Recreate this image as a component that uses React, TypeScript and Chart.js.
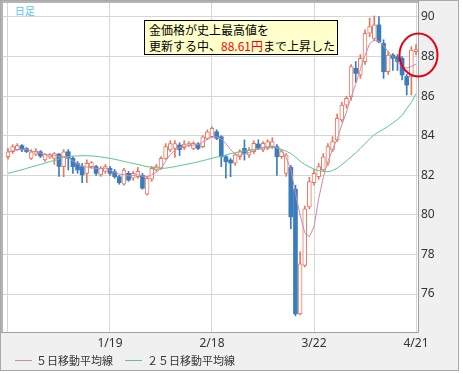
import React, { useEffect, useRef } from 'react';
import { Chart, registerables } from 'chart.js';

Chart.register(...registerables);

// ---- data (daily candles, index 0..88) ----
const OPEN = [
  82.94, 83.20, 83.30, 83.50, 83.35, 82.86, 83.05, 83.19, 82.78, 82.92,
  82.86, 83.08, 82.44, 83.19, 82.86, 82.60, 82.44, 82.10, 82.44, 82.44,
  82.02, 82.20, 82.35, 82.18, 81.93, 81.55, 82.10, 81.85, 81.93, 82.00,
  81.05, 81.80, 82.27, 82.35, 82.86, 83.28, 83.36, 83.53, 83.40, 83.53,
  83.36, 83.58, 83.45, 83.87, 83.95, 84.20, 83.95, 82.94, 82.77, 82.61,
  82.94, 83.36, 83.03, 83.20, 83.58, 83.28, 83.36, 83.45, 83.45, 82.94,
  82.10, 82.40, 81.30, 75.00, 77.45, 80.40, 81.63, 81.93, 82.27, 82.61,
  83.28, 83.79, 84.80, 85.55, 85.97, 87.41, 87.07, 87.74, 89.18, 88.92,
  89.60, 88.67, 87.24, 88.08, 87.99, 87.91, 86.99, 86.99, 88.25,
];
const HIGH = [
  83.36, 83.55, 83.60, 83.55, 83.40, 83.30, 83.35, 83.25, 83.10, 83.10,
  83.15, 83.10, 83.30, 83.30, 82.95, 82.70, 82.60, 82.78, 82.70, 82.50,
  82.45, 82.55, 82.45, 82.30, 82.00, 82.35, 82.20, 82.20, 82.40, 82.10,
  81.95, 82.45, 82.55, 82.95, 83.60, 83.75, 83.75, 83.65, 83.75, 83.70,
  83.70, 83.65, 84.00, 84.30, 84.45, 84.30, 84.00, 83.00, 82.85, 83.10,
  83.30, 83.79, 83.40, 83.75, 83.80, 83.70, 83.80, 83.90, 83.55, 83.30,
  83.10, 82.50, 81.50, 78.13, 80.45, 81.90, 82.30, 82.60, 83.10, 83.60,
  83.95, 85.10, 85.70, 86.00, 87.60, 87.75, 88.10, 89.35, 89.95, 90.05,
  90.02, 88.85, 88.25, 88.15, 88.10, 88.00, 87.10, 88.50, 88.61,
];
const LOW = [
  82.81, 83.10, 83.25, 83.20, 83.15, 82.80, 83.00, 82.90, 82.70, 82.85,
  82.55, 81.95, 81.93, 82.27, 82.10, 82.10, 81.63, 81.63, 82.35, 82.00,
  81.95, 82.10, 82.00, 81.85, 81.55, 81.50, 81.70, 81.75, 81.85, 81.30,
  81.00, 81.70, 82.20, 82.30, 82.80, 83.20, 82.90, 83.00, 83.30, 83.45,
  83.30, 83.30, 83.40, 83.80, 83.90, 83.80, 82.44, 81.86, 81.93, 82.50,
  82.80, 82.77, 82.90, 83.10, 83.30, 83.20, 83.30, 83.35, 82.00, 82.85,
  81.95, 79.30, 74.90, 74.95, 77.37, 80.30, 81.50, 81.80, 82.20, 82.50,
  83.20, 83.70, 84.70, 85.40, 85.80, 86.70, 86.90, 87.60, 89.00, 88.80,
  88.70, 86.90, 87.10, 87.30, 87.30, 86.82, 86.06, 86.06, 88.10,
];
const CLOSE = [
  83.19, 83.45, 83.50, 83.28, 83.20, 83.19, 83.22, 82.97, 83.05, 83.05,
  83.10, 82.45, 83.19, 82.86, 82.44, 82.27, 82.02, 82.60, 82.64, 82.10,
  82.35, 82.44, 82.10, 81.93, 81.63, 82.27, 81.76, 82.10, 82.20, 81.35,
  81.85, 82.35, 82.44, 82.86, 83.45, 83.60, 83.60, 83.30, 83.58, 83.62,
  83.62, 83.36, 83.95, 84.20, 84.37, 83.87, 82.94, 82.69, 82.62, 83.03,
  83.20, 83.11, 83.28, 83.62, 83.36, 83.62, 83.70, 83.70, 82.94, 83.20,
  83.03, 79.90, 75.00, 77.53, 80.31, 81.68, 82.10, 82.44, 82.94, 83.45,
  83.70, 84.88, 85.55, 85.89, 87.49, 87.15, 87.91, 89.18, 89.51, 89.60,
  88.75, 87.24, 88.08, 87.91, 87.74, 87.07, 86.56, 88.33, 88.35,
];
const MA5 = [
  83.19, 83.24, 83.30, 83.31, 83.30, 83.22, 83.18, 83.12, 83.06, 83.03,
  83.00, 82.94, 82.95, 82.88, 82.72, 82.58, 82.46, 82.42, 82.38, 82.35,
  82.34, 82.36, 82.25, 82.15, 82.06, 82.04, 81.97, 81.99, 82.02, 81.96,
  81.92, 82.02, 82.15, 82.35, 82.72, 83.05, 83.28, 83.40, 83.47, 83.50,
  83.53, 83.55, 83.68, 83.82, 83.93, 83.95, 83.84, 83.60, 83.30, 83.06,
  83.02, 83.08, 83.15, 83.25, 83.32, 83.40, 83.46, 83.48, 83.42, 83.22,
  82.90, 82.30, 81.10, 80.00, 79.10, 78.90, 79.40, 80.80, 81.90, 82.70,
  83.30, 83.85, 84.55, 85.20, 85.95, 86.60, 87.35, 88.05, 88.65, 88.85,
  88.78, 88.55, 88.25, 88.00, 87.75, 87.50, 87.42, 87.50, 87.62,
];
const MA25 = [
  82.10, 82.16, 82.22, 82.28, 82.35, 82.42, 82.48, 82.55, 82.62, 82.69,
  82.75, 82.82, 82.90, 82.95, 82.97, 82.98, 82.99, 82.99, 82.98, 82.96,
  82.93, 82.89, 82.86, 82.81, 82.76, 82.70, 82.65, 82.60, 82.55, 82.49,
  82.44, 82.41, 82.38, 82.36, 82.36, 82.40, 82.44, 82.49, 82.53, 82.58,
  82.63, 82.68, 82.74, 82.80, 82.86, 82.92, 82.96, 83.03, 83.10, 83.14,
  83.19, 83.23, 83.27, 83.31, 83.35, 83.38, 83.41, 83.42, 83.39, 83.31,
  83.22, 83.10, 82.92, 82.72, 82.55, 82.42, 82.31, 82.24, 82.20, 82.18,
  82.24, 82.36, 82.54, 82.73, 82.93, 83.13, 83.36, 83.60, 83.84, 84.05,
  84.20, 84.33, 84.48, 84.65, 84.82, 85.02, 85.38, 85.68, 86.12,
];
const X_TICK_POS = [0, 22, 44, 66, 88];
const X_TICK_LABELS = ['', '1/19', '2/18', '3/22', '4/21'];
const Y_TICKS = [76, 78, 80, 82, 84, 86, 88, 90];
const LEGEND = ['５日移動平均線', '２５日移動平均線'];

const UP = '#e8775f';
const DOWN = '#3a7dbf';
const PINK = '#d08aaa';
const GREEN = '#5cc68f';

export default function App() {
  const ref = useRef<HTMLCanvasElement>(null);

  useEffect(() => {
    document.body.style.margin = '0';
    const idx = OPEN.map((_, i) => i);
    const up = idx.map((i) => CLOSE[i] >= OPEN[i]);

    const framePlugin = {
      id: 'frame',
      beforeDraw(chart: any) {
        const { ctx, chartArea: a } = chart;
        ctx.save();
        ctx.fillStyle = '#ffffff';
        ctx.fillRect(0, 0, chart.width, chart.height);
        ctx.fillStyle = '#f0f0f0';
        ctx.fillRect(0, 0, 459, 371);
        ctx.fillStyle = '#ffffff';
        ctx.fillRect(a.left, a.top, a.right - a.left, a.bottom - a.top);
        ctx.restore();
      },
      afterDraw(chart: any) {
        const { ctx, chartArea: a } = chart;
        ctx.save();
        ctx.lineWidth = 1;
        ctx.strokeStyle = '#a9a9a9';
        ctx.strokeRect(0.5, 0.5, 458, 370);
        ctx.strokeStyle = '#b4b4b4';
        ctx.lineWidth = 2;
        ctx.beginPath();
        ctx.moveTo(2, a.bottom);
        ctx.lineTo(2, 2);
        ctx.lineTo(a.right, 2);
        ctx.stroke();
        ctx.lineWidth = 1;
        ctx.strokeStyle = '#a0a0a0';
        ctx.beginPath();
        ctx.moveTo(1, a.bottom + 0.5);
        ctx.lineTo(a.right + 0.5, a.bottom + 0.5);
        ctx.lineTo(a.right + 0.5, 1);
        ctx.stroke();
        // red highlight circle
        ctx.strokeStyle = '#e60012';
        ctx.lineWidth = 2;
        ctx.beginPath();
        ctx.ellipse(418.5, 55, 19, 21.5, 0, 0, Math.PI * 2);
        ctx.stroke();
        ctx.restore();
      },
    };

    const chart = new Chart(ref.current as HTMLCanvasElement, {
      type: 'bar',
      data: {
        datasets: [
          {
            type: 'line',
            label: LEGEND[0],
            data: idx.map((i) => ({ x: i, y: MA5[i] })),
            borderColor: PINK,
            borderWidth: 1,
            pointRadius: 0,
            order: 0,
          } as any,
          {
            type: 'line',
            label: LEGEND[1],
            data: idx.map((i) => ({ x: i, y: MA25[i] })),
            borderColor: GREEN,
            borderWidth: 1,
            pointRadius: 0,
            order: 0,
          } as any,
          {
            type: 'bar',
            label: 'body',
            data: idx.map((i) => ({ x: i, y: [OPEN[i], CLOSE[i]] })),
            backgroundColor: idx.map((i) => (up[i] ? '#ffffff' : DOWN)),
            borderColor: idx.map((i) => (up[i] ? UP : DOWN)),
            borderWidth: idx.map((i) => (up[i] ? 1 : 0)),
            borderSkipped: false,
            barThickness: 4,
            grouped: false,
            order: 1,
          } as any,
          {
            type: 'bar',
            label: 'wick',
            data: idx.map((i) => ({ x: i, y: [LOW[i], HIGH[i]] })),
            backgroundColor: idx.map((i) => (up[i] ? UP : DOWN)),
            borderWidth: 0,
            barThickness: 1,
            grouped: false,
            order: 2,
          } as any,
        ],
      },
      options: {
        responsive: false,
        animation: false,
        devicePixelRatio: 1,
        events: [],
        layout: { autoPadding: false, padding: { left: 3, top: 3, right: 4, bottom: 3 } },
        plugins: { legend: { display: false }, tooltip: { enabled: false } },
        scales: {
          x: {
            type: 'linear',
            min: -1.078,
            max: 88.431,
            offset: false,
            grid: { color: '#d6d6d6', drawTicks: false, offset: false },
            border: { display: false },
            afterBuildTicks: (s: any) => {
              s.ticks = X_TICK_POS.map((v) => ({ value: v }));
            },
            afterFit: (s: any) => {
              s.height = 39;
              s.paddingLeft = 0;
              s.paddingRight = 0;
              s.paddingTop = 0;
              s.paddingBottom = 0;
            },
            ticks: {
              autoSkip: false,
              maxRotation: 0,
              padding: 4,
              color: '#333',
              font: { size: 12, family: "'Noto Sans', sans-serif" },
              callback: (v: any) => {
                const k = X_TICK_POS.indexOf(Number(v));
                return k >= 0 ? X_TICK_LABELS[k] : '';
              },
            },
          },
          y: {
            position: 'right',
            min: 74.083,
            max: 90.707,
            grid: { color: '#d6d6d6', drawTicks: false },
            border: { display: false },
            afterBuildTicks: (s: any) => {
              s.ticks = Y_TICKS.map((v) => ({ value: v }));
            },
            afterFit: (s: any) => {
              s.width = 41;
              s.paddingLeft = 0;
              s.paddingRight = 0;
              s.paddingTop = 0;
              s.paddingBottom = 0;
            },
            ticks: {
              padding: 3,
              color: '#333',
              font: { size: 12, family: "'Noto Sans', sans-serif" },
              callback: (v: any) => String(v),
            },
          },
        },
      } as any,
      plugins: [framePlugin],
    });
    return () => chart.destroy();
  }, []);

  const cjk = "'Noto Sans CJK JP', sans-serif";
  return (
    <div style={{ position: 'absolute', left: 0, top: 0, width: 463, height: 374 }}>
      <canvas ref={ref} width={463} height={374} style={{ display: 'block' }} />
      <div
        style={{
          position: 'absolute', left: 15, top: 4, fontFamily: cjk, fontSize: 10,
          color: '#4fc3f0', lineHeight: '14px',
        }}
      >
        日足
      </div>
      <div
        style={{
          position: 'absolute', left: 144, top: 20, width: 188, height: 32,
          background: '#ffffcc', border: '1px solid #000', fontFamily: cjk,
          fontSize: 12, lineHeight: '16px', color: '#000', padding: '1px 0 0 4px',
          boxSizing: 'content-box', whiteSpace: 'nowrap',
        }}
      >
        <div>金価格が史上最高値を</div>
        <div>
          更新する中、<span style={{ color: '#ff0000' }}>88.61円</span>まで上昇した
        </div>
      </div>
      <div
        style={{
          position: 'absolute', left: 15, top: 352, height: 16, display: 'flex',
          alignItems: 'center', fontFamily: cjk, fontSize: 11, color: '#333', whiteSpace: 'nowrap',
        }}
      >
        <span style={{ display: 'inline-block', width: 17, height: 1, background: PINK, marginRight: 4 }} />
        <span style={{ width: 86 }}>{LEGEND[0]}</span>
        <span style={{ display: 'inline-block', width: 17, height: 1, background: GREEN, marginLeft: 3, marginRight: 5 }} />
        <span>{LEGEND[1]}</span>
      </div>
    </div>
  );
}
